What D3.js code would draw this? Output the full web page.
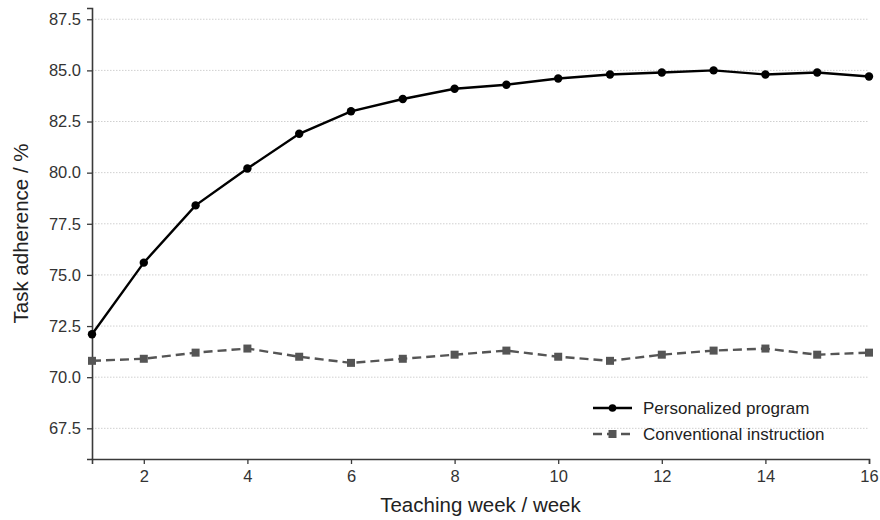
<!DOCTYPE html>
<html><head><meta charset="utf-8">
<script src="https://cdn.jsdelivr.net/npm/d3@7"></script>
<style>body{margin:0;background:#fff}svg{display:block;font-family:"Liberation Sans",Arial,sans-serif}</style>
</head><body><svg id="c" width="880" height="520"></svg>
<script>
const weeks = [1,2,3,4,5,6,7,8,9,10,11,12,13,14,15,16];
const personalized = [72.1,75.6,78.4,80.2,81.9,83.0,83.6,84.1,84.3,84.6,84.8,84.9,85.0,84.8,84.9,84.7];
const conventional = [70.8,70.9,71.2,71.4,71.0,70.7,70.9,71.1,71.3,71.0,70.8,71.1,71.3,71.4,71.1,71.2];
const yTicks = [67.5,70.0,72.5,75.0,77.5,80.0,82.5,85.0,87.5];
const xTicks = [2,4,6,8,10,12,14,16];
const seriesNames = ["Personalized program","Conventional instruction"];

const svg = d3.select("#c");
const m = {l:92, r:11, t:8, b:61};
const W = 880, H = 520;
const x = d3.scaleLinear().domain([1,16]).range([m.l, W-m.r]);
const y = d3.scaleLinear().domain([66.0,88.05]).range([H-m.b, m.t]);

// grid
svg.append("g").selectAll("line").data(yTicks).join("line")
  .attr("x1", m.l).attr("x2", W-m.r)
  .attr("y1", d=>y(d)).attr("y2", d=>y(d))
  .attr("stroke","#d0d0d0").attr("stroke-width",1).attr("stroke-dasharray","1.5,1.5");

const xa = svg.append("g").attr("transform",`translate(0,${H-m.b})`)
  .call(d3.axisBottom(x).tickValues(xTicks).tickFormat(d3.format("d")).tickSize(5).tickPadding(6));
const ya = svg.append("g").attr("transform",`translate(${m.l},0)`)
  .call(d3.axisLeft(y).tickValues(yTicks).tickFormat(d3.format(".1f")).tickSize(5).tickPadding(6));
[xa,ya].forEach(a=>{
  a.select(".domain").attr("stroke","#3a3a3a").attr("stroke-width",1.6);
  a.selectAll(".tick line").attr("stroke","#3a3a3a").attr("stroke-width",1.3);
  a.selectAll(".tick text").attr("fill","#333").style("font-size","16.5px").style("font-family","'Liberation Sans',Arial,sans-serif");
});

const line = d3.line().x((d,i)=>x(weeks[i])).y(d=>y(d));
svg.append("path").datum(conventional).attr("d",line).attr("fill","none")
  .attr("stroke","#555").attr("stroke-width",2.4).attr("stroke-dasharray","9,5");
svg.append("g").selectAll("rect").data(conventional).join("rect")
  .attr("x",(d,i)=>x(weeks[i])-4).attr("y",d=>y(d)-4).attr("width",8).attr("height",8).attr("fill","#555");

svg.append("path").datum(personalized).attr("d",line).attr("fill","none")
  .attr("stroke","#000").attr("stroke-width",2.4);
svg.append("g").selectAll("circle").data(personalized).join("circle")
  .attr("cx",(d,i)=>x(weeks[i])).attr("cy",d=>y(d)).attr("r",4.2).attr("fill","#000");

// axis labels
svg.append("text").attr("x",(m.l+W-m.r)/2).attr("y",512).attr("text-anchor","middle")
  .attr("fill","#222").style("font-size","20.5px").text("Teaching week / week");
svg.append("text").attr("transform",`translate(28,${(m.t+H-m.b)/2}) rotate(-90)`).attr("text-anchor","middle")
  .attr("fill","#222").style("font-size","20.5px").text("Task adherence / %");

// legend
const lg = svg.append("g");
const ly = [408, 434];
lg.append("line").attr("x1",593).attr("x2",632).attr("y1",ly[0]).attr("y2",ly[0]).attr("stroke","#000").attr("stroke-width",2.4);
lg.append("circle").attr("cx",612.5).attr("cy",ly[0]).attr("r",3.8).attr("fill","#000");
lg.append("line").attr("x1",593).attr("x2",632).attr("y1",ly[1]).attr("y2",ly[1]).attr("stroke","#555").attr("stroke-width",2.4).attr("stroke-dasharray","9,5");
lg.append("rect").attr("x",608.5).attr("y",ly[1]-4).attr("width",8).attr("height",8).attr("fill","#555");
lg.selectAll("text").data(seriesNames).join("text")
  .attr("x",643).attr("y",(d,i)=>ly[i]+6).attr("fill","#222").style("font-size","17px").text(d=>d);
</script></body></html>
